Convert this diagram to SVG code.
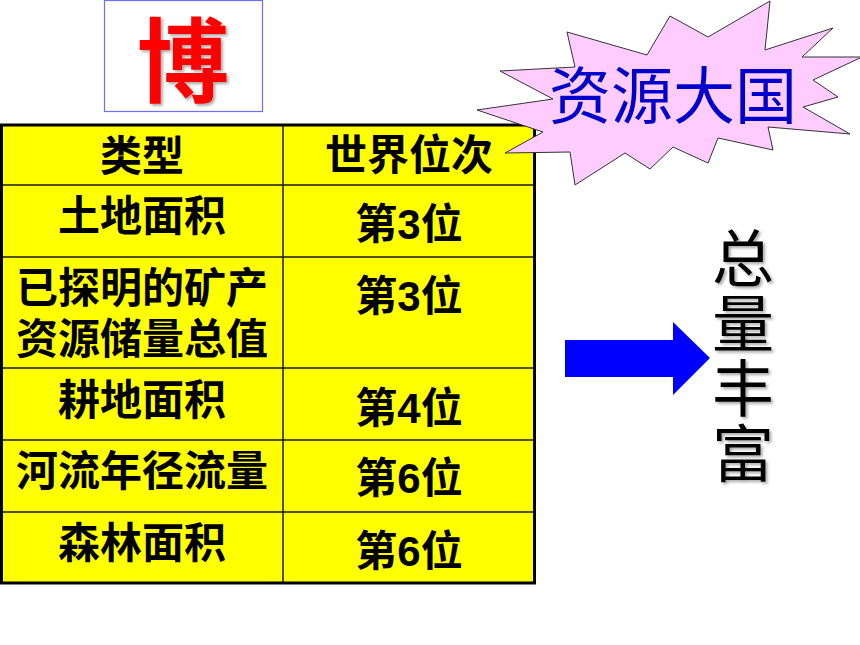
<svg xmlns="http://www.w3.org/2000/svg" width="860" height="645" viewBox="0 0 860 645">
<defs>
<style>
.cell{font-family:"Liberation Sans","Noto Sans CJK SC",sans-serif;font-weight:bold;font-size:42px;fill:#000;text-anchor:middle}
.grid{stroke:#1a1a1a;stroke-width:1.5;fill:none}
</style>
<filter id="sh" x="-20%" y="-20%" width="140%" height="140%">
<feDropShadow dx="2" dy="2" stdDeviation="1.5" flood-color="#000" flood-opacity="0.35"/>
</filter>
</defs>
<rect width="860" height="645" fill="#fff"/>
<g id="title">
<rect x="104.5" y="0.5" width="158" height="111" fill="#fff" stroke="#6f6ff0" stroke-width="1.2"/>
<text x="183" y="95" font-family="Noto Sans CJK SC,sans-serif" font-weight="bold" font-size="92" fill="#ff0000" text-anchor="middle" filter="url(#sh)">博</text>
</g>
<g id="table">
<rect x="1.5" y="125" width="533" height="458" fill="#ffff00"/>
<g class="grid">
<line x1="283" y1="125" x2="283" y2="583"/>
<line x1="1.5" y1="185" x2="534.5" y2="185"/>
<line x1="1.5" y1="257" x2="534.5" y2="257"/>
<line x1="1.5" y1="368" x2="534.5" y2="368"/>
<line x1="1.5" y1="440" x2="534.5" y2="440"/>
<line x1="1.5" y1="512" x2="534.5" y2="512"/>
</g>
<rect x="1.5" y="125" width="533" height="458" fill="none" stroke="#000" stroke-width="3"/>
<text class="cell" x="142" y="171">类型</text>
<text class="cell" x="409" y="170">世界位次</text>
<text class="cell" x="142" y="231">土地面积</text>
<text class="cell" x="409" y="239">第3位</text>
<text class="cell" x="142" y="303">已探明的矿产</text>
<text class="cell" x="142" y="354">资源储量总值</text>
<text class="cell" x="409" y="311">第3位</text>
<text class="cell" x="142" y="415">耕地面积</text>
<text class="cell" x="409" y="423">第4位</text>
<text class="cell" x="142" y="486">河流年径流量</text>
<text class="cell" x="409" y="493">第6位</text>
<text class="cell" x="142" y="558">森林面积</text>
<text class="cell" x="409" y="566">第6位</text>
</g>
<g id="burst">
<polygon points="477,110 553,99 500,71 575,67 567,32 647,55 670,16 708,37 770,1 765,50 833,28 802,57 862,57 813,80 838,97 803,107 850,134 768,127 773,150 718,138 708,163 673,147 650,169 625,153 575,185 570,152 505,153 543,132" fill="#ffccff" stroke="#333" stroke-width="1"/>
<text x="673" y="119" font-family="Noto Sans CJK SC,sans-serif" font-size="62" fill="#0000cc" text-anchor="middle">资源大国</text>
</g>
<g id="connectors">
<polygon points="565,340 673,340 673,322 710,358 673,395 673,377 565,377" fill="#0000ff"/>
</g>
<g id="result">
<text x="743" y="227" writing-mode="vertical-rl" letter-spacing="3" font-family="Noto Sans CJK SC,sans-serif" font-size="62" fill="#000" filter="url(#sh)">总量丰富</text>
</g>
</svg>
